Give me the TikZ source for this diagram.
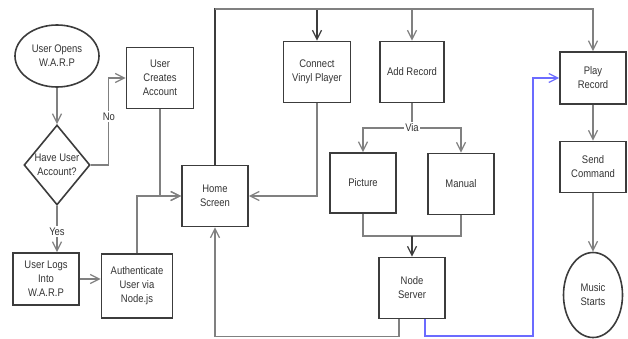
\documentclass[tikz,border=0pt]{standalone}
\usepackage{fontspec}
\setmainfont[FakeStretch=0.86]{Liberation Sans}
\usetikzlibrary{shapes.geometric,arrows.meta}
\definecolor{boxline}{HTML}{3C3C3C}
\definecolor{connline}{HTML}{808080}
\definecolor{blueline}{HTML}{6B6BFF}
\tikzset{
  stepbox/.style={draw=boxline,line width=1.6pt,align=center,minimum width=66,minimum height=61,inner sep=2pt},
  conn/.style={draw=connline,line width=1.3pt,-{Straight Barb[length=9pt,width=9pt]}},
  plain/.style={draw=connline,line width=1.3pt},
  lbl/.style={fill=white,inner sep=1.5pt}
}
\begin{document}
\begin{tikzpicture}[x=1pt,y=-1pt,font=\fontsize{11}{14}\selectfont,text=black!80]
\useasboundingbox (0,0) rectangle (628,339);
\node[stepbox,ellipse,minimum width=84,minimum height=62] (open) at (57,56) {User Opens\\W.A.R.P};
\node[stepbox,diamond,aspect=0.8,inner sep=0pt,minimum width=66,minimum height=80] (have) at (57,165) {Have User\\Account?};
\node[stepbox,minimum width=67] (create) at (160,78) {User\\Creates\\Account};
\node[stepbox,minimum height=52] (login) at (46,279) {User Logs\\Into\\W.A.R.P};
\node[stepbox,minimum width=71,minimum height=64] (auth) at (137,286) {Authenticate\\User via\\Node.js};
\node[stepbox] (home) at (215,196) {Home\\Screen};
\node[stepbox,minimum width=67] (connect) at (317,72) {Connect\\Vinyl Player};
\node[stepbox,minimum width=64] (add) at (412,72) {Add Record};
\node[stepbox,minimum height=60] (pic) at (363,183) {Picture};
\node[stepbox] (man) at (461,184) {Manual};
\node[stepbox] (server) at (412,288) {Node\\Server};
\node[stepbox,minimum height=52] (play) at (593,78) {Play\\Record};
\node[stepbox,minimum height=51] (send) at (593,167) {Send\\Command};
\node[stepbox,ellipse,minimum width=59,minimum height=85] (music) at (593,295) {Music\\Starts};

\coordinate (bus) at (0,9);
\coordinate (merge) at (412,236);
\coordinate (bluebus) at (533,336);

\draw[conn] (open) -- (have);
\draw[conn] (have.east) -- ++(18,0) |- node[lbl,pos=0.28] {No} (create.west);
\draw[conn] (have.south) -- node[lbl,pos=0.55] {Yes} (have.south |- login.north);
\draw[conn] (login.east) -- (login.east -| auth.west);
\draw[conn] (create.south) |- (home.west);
\draw[conn] (auth.north) |- (home.west);
\draw[conn,draw=boxline] (home.north) -- (home.north |- bus) -| (connect.north);
\draw[conn] (home.north |- bus) -| (add.north);
\draw[conn] (home.north |- bus) -| (play.north);
\draw[conn] (connect.south) |- (home.east);
\node[lbl] (via) at (412,128) {Via};
\draw[plain] (add.south) -- (via.north);
\draw[conn] (via.west) -| (pic.north);
\draw[conn] (via.east) -| (man.north);
\draw[plain] (pic.south) |- (merge);
\draw[plain] (man.south) |- (merge);
\draw[conn,draw=boxline] (merge) -- (server.north);
\draw[conn] ([xshift=-13]server.south) -- ++(0,17) -| (home.south);
\draw[conn,draw=blueline] ([xshift=13]server.south) |- (bluebus) |- (play.west);
\draw[conn] (play) -- (send);
\draw[conn] (send) -- (music);
\end{tikzpicture}
\end{document}
